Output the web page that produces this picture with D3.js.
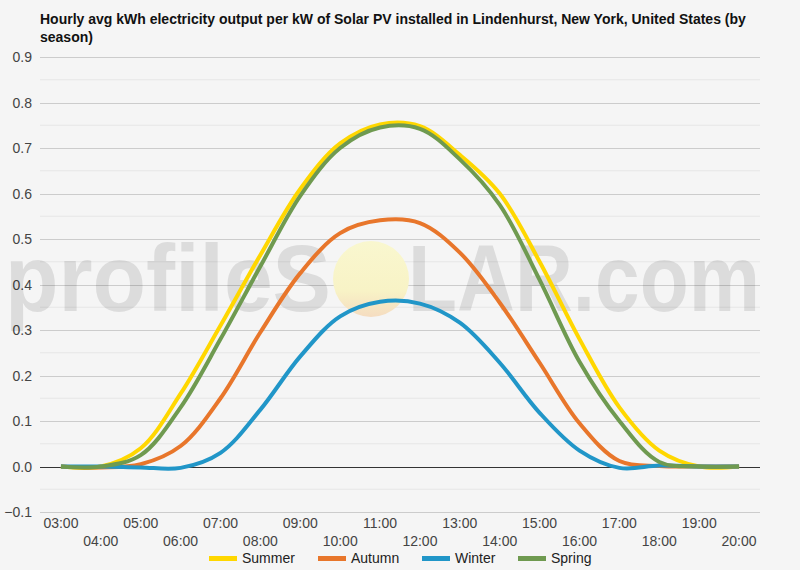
<!DOCTYPE html>
<html>
<head>
<meta charset="utf-8">
<script src="https://cdn.jsdelivr.net/npm/d3@7"></script>
<style>
  html, body { margin: 0; padding: 0; background: #f5f5f5; }
  svg { display: block; font-family: "Liberation Sans", Arial, sans-serif; }
</style>
</head>
<body>
<svg id="chart" width="800" height="570"></svg>
<script>
const hours = ["03:00","04:00","05:00","06:00","07:00","08:00","09:00","10:00","11:00","12:00","13:00","14:00","15:00","16:00","17:00","18:00","19:00","20:00"];
const summer = [0, 0.0, 0.04, 0.16, 0.31, 0.465, 0.61, 0.71, 0.752, 0.748, 0.685, 0.6, 0.45, 0.28, 0.13, 0.035, 0, 0];
const autumn = [0, -0.002, 0.005, 0.045, 0.15, 0.295, 0.425, 0.513, 0.541, 0.535, 0.47, 0.36, 0.228, 0.095, 0.012, 0.001, 0, 0];
const winter = [0, 0, -0.002, -0.003, 0.03, 0.125, 0.242, 0.33, 0.362, 0.358, 0.316, 0.228, 0.118, 0.035, -0.003, 0.002, 0, 0];
const spring = [0, 0.0, 0.025, 0.13, 0.28, 0.44, 0.595, 0.70, 0.745, 0.742, 0.675, 0.575, 0.41, 0.23, 0.1, 0.01, 0, 0];
const seriesNames = ["Summer", "Autumn", "Winter", "Spring"];
const seriesColors = ["#ffd700", "#e8762b", "#2196c8", "#6f9a50"];
const yTicks = [-0.1, 0, 0.1, 0.2, 0.3, 0.4, 0.5, 0.6, 0.7, 0.8, 0.9];
const titleLines = ["Hourly avg kWh electricity output per kW of Solar PV installed in Lindenhurst, New York, United States (by", "season)"];

const seriesData = [summer, autumn, winter, spring];
const svg = d3.select("#chart");

const x = d3.scalePoint().domain(hours).range([41, 759]).padding(0.5);
const y = d3.scaleLinear().domain([-0.1, 0.9]).range([512, 57]);
const left = 40, right = 760;

// title
const title = svg.append("text").attr("x", 40).attr("font-size", 14).attr("font-weight", "bold").attr("fill", "#111");
titleLines.forEach((t, i) => title.append("tspan").attr("x", 40).attr("y", 24 + i * 18).text(t));

// minor gridlines
const minor = d3.range(-0.05, 0.9, 0.1);
svg.append("g").selectAll("line").data(minor).join("line")
  .attr("x1", left).attr("x2", right)
  .attr("y1", d => y(d)).attr("y2", d => y(d))
  .attr("stroke", "#e6e6e6").attr("stroke-width", 1);

// major gridlines
svg.append("g").selectAll("line").data(yTicks.filter(d => d !== 0)).join("line")
  .attr("x1", left).attr("x2", right)
  .attr("y1", d => Math.round(y(d)) + 0.5).attr("y2", d => Math.round(y(d)) + 0.5)
  .attr("stroke", "#cccccc").attr("stroke-width", 1);

// y labels
svg.append("g").selectAll("text").data(yTicks).join("text")
  .attr("x", 32).attr("y", d => y(d) + 5)
  .attr("text-anchor", "end").attr("font-size", 14).attr("fill", "#444")
  .text(d => d3.format(".1f")(d));

// watermark
const wm = svg.append("g").attr("fill", "rgba(0,0,0,0.1)").attr("font-weight", "bold").attr("font-size", 94);
wm.append("text").attr("x", 5).attr("y", 311).attr("textLength", 326).attr("lengthAdjust", "spacingAndGlyphs").text("profileS");
wm.append("text").attr("x", 408).attr("y", 311).attr("textLength", 352).attr("lengthAdjust", "spacingAndGlyphs").text("LAR.com");
const defs = svg.append("defs");
const grad = defs.append("linearGradient").attr("id", "sun").attr("x1", 0).attr("y1", 0).attr("x2", 0).attr("y2", 1);
grad.append("stop").attr("offset", "0%").attr("stop-color", "#f9f7cf");
grad.append("stop").attr("offset", "65%").attr("stop-color", "#f8f3c6");
grad.append("stop").attr("offset", "100%").attr("stop-color", "#f5dcc0");
svg.append("circle").attr("cx", 371).attr("cy", 279).attr("r", 38).attr("fill", "url(#sun)");

// zero line
svg.append("line").attr("x1", left).attr("x2", right)
  .attr("y1", Math.round(y(0)) + 0.5).attr("y2", Math.round(y(0)) + 0.5)
  .attr("stroke", "#333").attr("stroke-width", 1);

// lines
const line = d3.line().x((d, i) => x(hours[i])).y(d => y(d)).curve(d3.curveCatmullRom.alpha(0.5));
seriesData.forEach((s, k) => {
  svg.append("path").datum(s).attr("d", line)
    .attr("fill", "none").attr("stroke", seriesColors[k]).attr("stroke-width", 4)
    .attr("stroke-linejoin", "round").attr("stroke-linecap", "butt");
});

// x labels staggered
svg.append("g").selectAll("text").data(hours).join("text")
  .attr("x", d => x(d))
  .attr("y", (d, i) => i % 2 === 0 ? 528 : 546)
  .attr("text-anchor", "middle").attr("font-size", 14).attr("fill", "#444")
  .text(d => d);

// legend
const legendX = [209, 318, 422, 518];
const lg = svg.append("g");
seriesNames.forEach((n, i) => {
  lg.append("rect").attr("x", legendX[i]).attr("y", 556).attr("width", 28).attr("height", 5).attr("fill", seriesColors[i]);
  lg.append("text").attr("x", legendX[i] + 33).attr("y", 563).attr("font-size", 14).attr("fill", "#222").text(n);
});
</script>
</body>
</html>
